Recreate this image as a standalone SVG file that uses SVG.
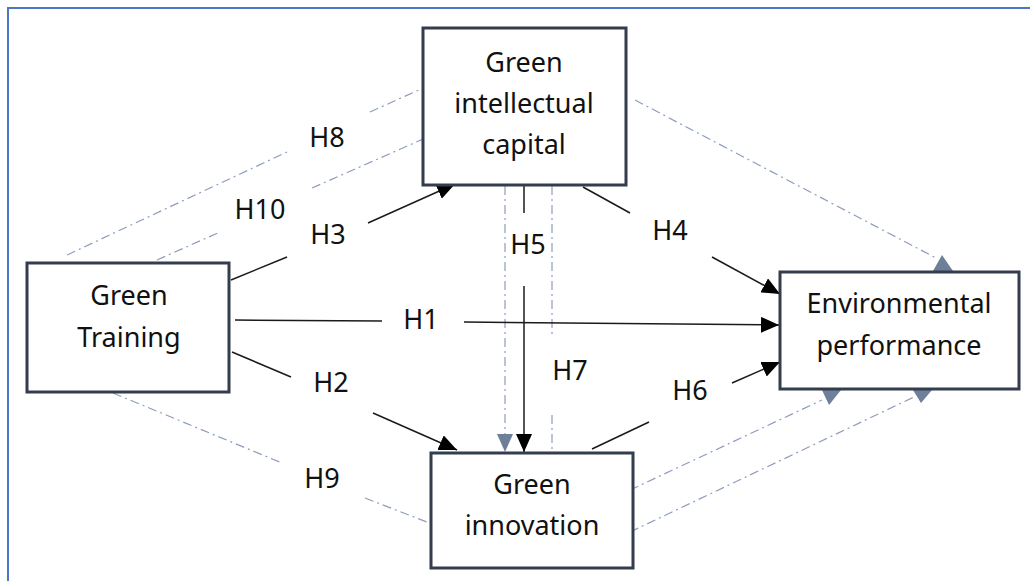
<svg xmlns="http://www.w3.org/2000/svg" width="1030" height="581" viewBox="0 0 1030 581">
<style>
.frame{fill:none;stroke:#4A78C8;stroke-width:2}
.box{fill:#fff;stroke:#333d4d;stroke-width:3}
.t{font-family:"Noto Sans","DejaVu Sans",sans-serif;font-size:27px;fill:#111;text-anchor:middle}
.solid{fill:none;stroke:#1a1a1a;stroke-width:1.5}
.dash{fill:none;stroke:#8D9DBA;stroke-width:1.2;stroke-dasharray:9 4 2 4}
.gtri{fill:#6E7F9A}
</style>
<defs>
<marker id="ah" markerUnits="userSpaceOnUse" markerWidth="18" markerHeight="16" refX="18" refY="8" orient="auto">
<path d="M0,0 L18,8 L0,16 z" fill="#000"/>
</marker>
<marker id="gah" markerUnits="userSpaceOnUse" markerWidth="18" markerHeight="16" refX="18" refY="8" orient="auto">
<path d="M0,0 L18,8 L0,16 z" fill="#6E7F9A"/>
</marker>
</defs>
<rect class="frame" x="8" y="8" width="1040" height="600"/>
<g id="connectors">
<line class="dash" x1="67" y1="255" x2="287" y2="152"/>
<line class="dash" x1="370" y1="112" x2="430" y2="85"/>
<line class="dash" x1="635" y1="100" x2="936" y2="258"/>
<line class="dash" x1="157" y1="260" x2="220" y2="232"/>
<line class="dash" x1="312" y1="188" x2="430" y2="136"/>
<line class="dash" x1="505" y1="186" x2="505" y2="452" marker-end="url(#gah)"/>
<line class="dash" x1="552" y1="186" x2="552" y2="337"/>
<line class="dash" x1="552" y1="415" x2="552" y2="452"/>
<line class="dash" x1="113" y1="393" x2="282" y2="463"/>
<line class="dash" x1="365" y1="498" x2="432" y2="524"/>
<line class="dash" x1="630" y1="490" x2="822" y2="400"/>
<line class="dash" x1="630" y1="532" x2="914" y2="397"/>
<polygon class="gtri" points="942,255 933,271 953,271"/>
<polygon class="gtri" points="822,390 841,390 829,405"/>
<polygon class="gtri" points="913,390 932,390 921,403"/>
<line class="solid" x1="231" y1="280" x2="287" y2="257"/>
<line class="solid" x1="368" y1="223" x2="455" y2="184" marker-end="url(#ah)"/>
<line class="solid" x1="235" y1="320" x2="382" y2="321"/>
<line class="solid" x1="464" y1="322" x2="779" y2="325" marker-end="url(#ah)"/>
<line class="solid" x1="232" y1="352" x2="291" y2="377"/>
<line class="solid" x1="373" y1="413" x2="457" y2="450" marker-end="url(#ah)"/>
<line class="solid" x1="524" y1="186" x2="524" y2="213"/>
<line class="solid" x1="524" y1="286" x2="524" y2="452" marker-end="url(#ah)"/>
<line class="solid" x1="583" y1="187" x2="630" y2="213"/>
<line class="solid" x1="712" y1="257" x2="780" y2="294" marker-end="url(#ah)"/>
<line class="solid" x1="592" y1="449" x2="649" y2="422"/>
<line class="solid" x1="732" y1="383" x2="780" y2="362" marker-end="url(#ah)"/>
<text class="t" x="327" y="147">H8</text>
<text class="t" x="260" y="219">H10</text>
<text class="t" x="328" y="244">H3</text>
<text class="t" x="670" y="240">H4</text>
<text class="t" x="528" y="254">H5</text>
<text class="t" x="421" y="329">H1</text>
<text class="t" x="570" y="380">H7</text>
<text class="t" x="331" y="392">H2</text>
<text class="t" x="690" y="400">H6</text>
<text class="t" x="322" y="488">H9</text>
</g>
<g id="node-gic">
<rect class="box" x="423" y="28" width="203" height="157"/>
<text class="t" x="524" y="72">Green</text>
<text class="t" x="524" y="113">intellectual</text>
<text class="t" x="524" y="154">capital</text>
</g>
<g id="node-gt">
<rect class="box" x="27" y="263" width="202" height="129"/>
<text class="t" x="129" y="305">Green</text>
<text class="t" x="129" y="347">Training</text>
</g>
<g id="node-ep">
<rect class="box" x="780" y="272" width="239" height="117"/>
<text class="t" x="899" y="313">Environmental</text>
<text class="t" x="899" y="355">performance</text>
</g>
<g id="node-gi">
<rect class="box" x="431" y="453" width="202" height="115"/>
<text class="t" x="532" y="494">Green</text>
<text class="t" x="532" y="535">innovation</text>
</g>
</svg>
